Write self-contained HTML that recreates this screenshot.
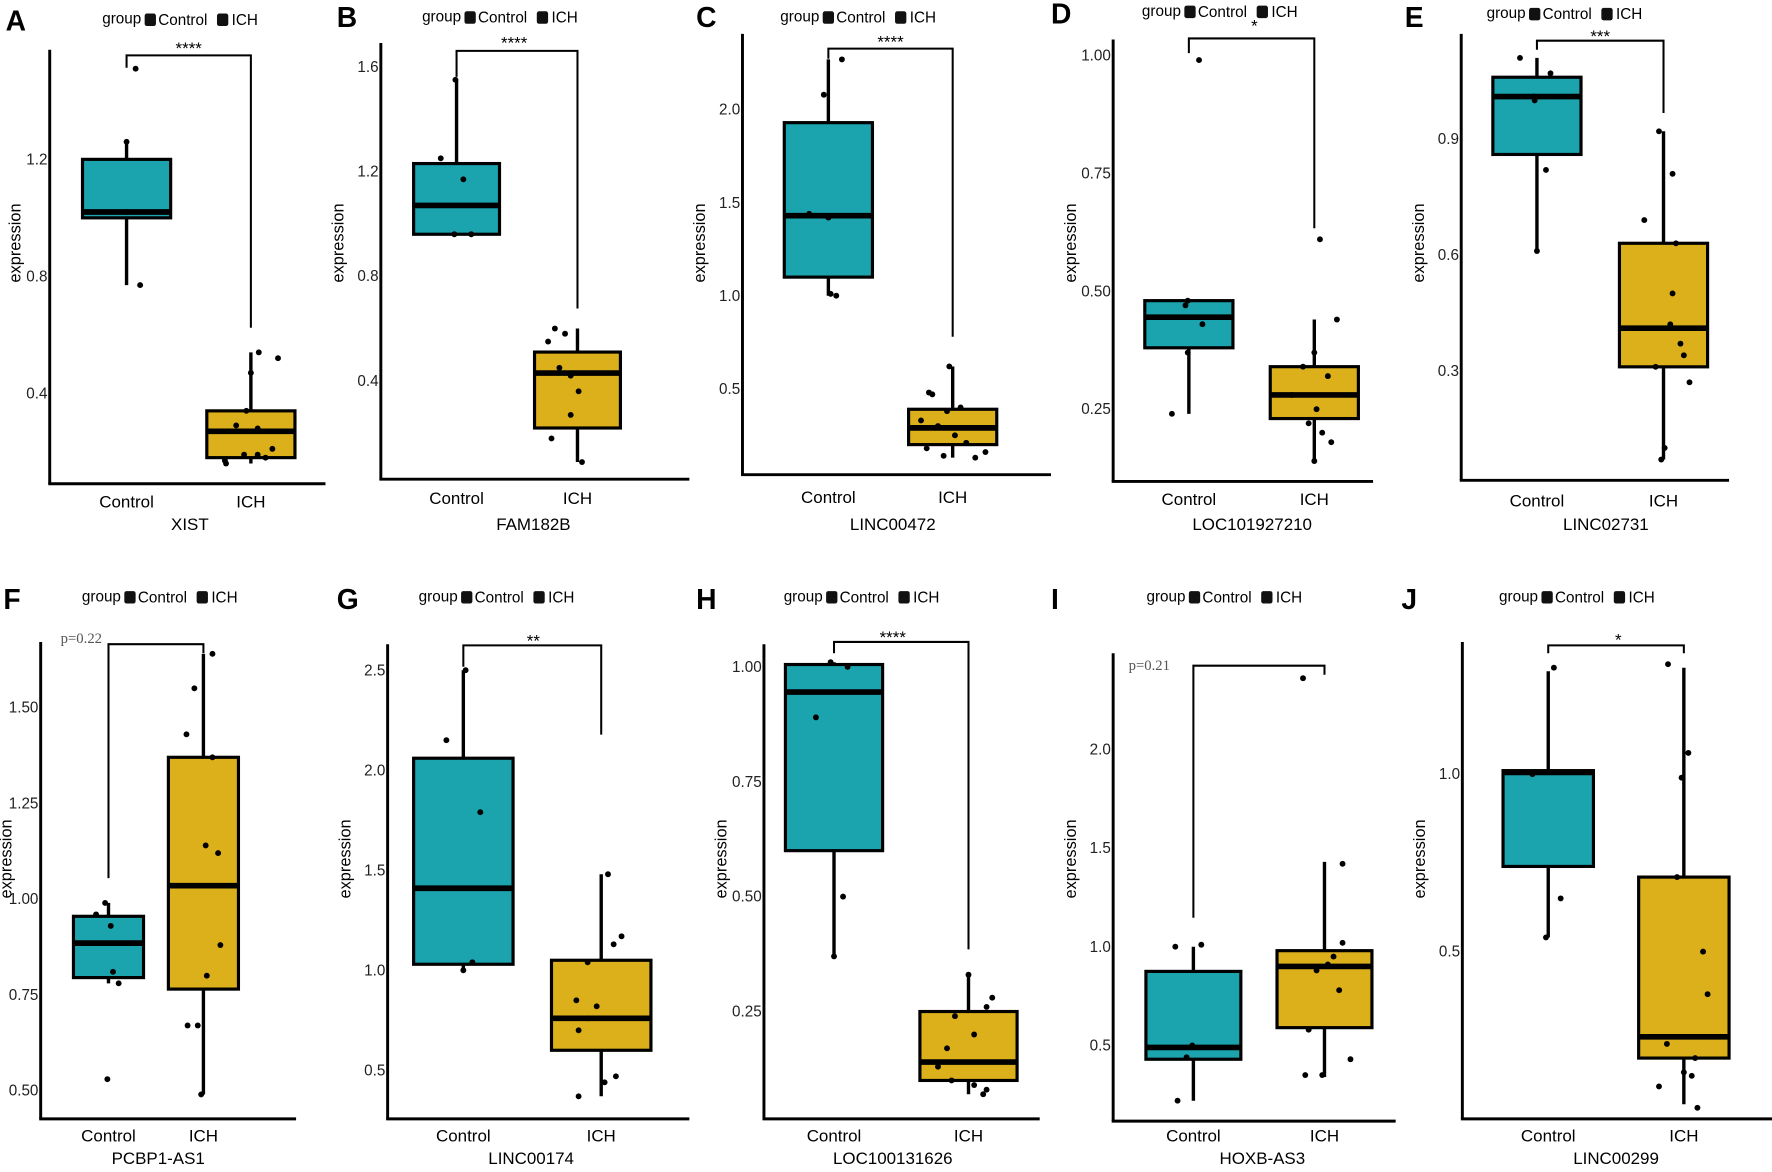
<!DOCTYPE html>
<html><head><meta charset="utf-8"><style>
html,body{margin:0;padding:0;background:#fff;}
svg{display:block;font-family:"Liberation Sans",sans-serif;}
</style></head><body>
<svg id="fig" width="1772" height="1172" viewBox="0 0 1568 1037" preserveAspectRatio="none" xmlns="http://www.w3.org/2000/svg"></svg>
<script>
// ---- data ----
const panelLetters=["A","B","C","D","E","F","G","H","I","J"];
const genes=["XIST","FAM182B","LINC00472","LOC101927210","LINC02731","PCBP1-AS1","LINC00174","LOC100131626","HOXB-AS3","LINC00299"];
const sigLabels=["****","****","****","*","***","p=0.22","**","****","p=0.21","*"];
const yTicks=[[1.2,0.8,0.4],[1.6,1.2,0.8,0.4],[2.0,1.5,1.0,0.5],[1.00,0.75,0.50,0.25],[0.9,0.6,0.3],
 [1.50,1.25,1.00,0.75,0.50],[2.5,2.0,1.5,1.0,0.5],[1.00,0.75,0.50,0.25],[2.0,1.5,1.0,0.5],[1.0,0.5]];
const tickLabels=[["1.2","0.8","0.4"],["1.6","1.2","0.8","0.4"],["2.0","1.5","1.0","0.5"],["1.00","0.75","0.50","0.25"],["0.9","0.6","0.3"],
 ["1.50","1.25","1.00","0.75","0.50"],["2.5","2.0","1.5","1.0","0.5"],["1.00","0.75","0.50","0.25"],["2.0","1.5","1.0","0.5"],["1.0","0.5"]];
// [lower whisker, q1, median, q3, upper whisker]
const ctrlStats=[[0.77,1.0,1.02,1.2,1.26],[0.96,0.96,1.07,1.23,1.55],[1.0,1.1,1.43,1.93,2.27],[0.24,0.38,0.445,0.48,0.48],[0.61,0.86,1.01,1.06,1.11],
 [0.78,0.795,0.885,0.955,0.99],[1.0,1.03,1.41,2.06,2.5],[0.37,0.6,0.945,1.005,1.01],[0.22,0.43,0.49,0.875,1.0],[0.54,0.74,1.005,1.01,1.29]];
const ichStats=[[0.16,0.18,0.27,0.34,0.54],[0.09,0.22,0.43,0.51,0.6],[0.13,0.2,0.29,0.39,0.62],[0.14,0.23,0.28,0.34,0.44],[0.07,0.31,0.41,0.63,0.92],
 [0.49,0.765,1.035,1.37,1.64],[0.37,0.6,0.76,1.05,1.48],[0.07,0.1,0.14,0.25,0.33],[0.34,0.59,0.9,0.98,1.43],[0.07,0.2,0.26,0.71,1.3]];
const ctrlPts=[[1.51,1.26,0.77,1.02],[1.55,1.25,1.17,0.96,0.96],[2.27,2.08,1.44,1.42,1.0,1.01],[0.99,0.48,0.47,0.43,0.37,0.24],[1.11,1.07,1.01,1.0,0.82,0.61],
 [0.99,0.96,0.93,0.81,0.78,0.53],[2.5,2.15,1.79,1.04,1.0],[1.01,1.0,0.89,0.5,0.37],[1.01,1.0,0.5,0.44,0.22],[1.3,1.0,0.65,0.54]];
const ichPts=[[0.54,0.52,0.47,0.34,0.29,0.28,0.21,0.19,0.19,0.18,0.17,0.16],
 [0.6,0.58,0.55,0.45,0.42,0.36,0.27,0.18,0.09],
 [0.62,0.48,0.47,0.4,0.38,0.33,0.3,0.25,0.21,0.18,0.14,0.13,0.16],
 [0.61,0.44,0.37,0.34,0.32,0.28,0.25,0.22,0.2,0.18,0.14],
 [0.92,0.81,0.69,0.63,0.5,0.42,0.37,0.34,0.31,0.27,0.1,0.07],
 [1.64,1.55,1.43,1.37,1.14,1.12,0.88,0.8,0.67,0.67,0.49],
 [1.48,1.17,1.13,1.04,0.85,0.82,0.76,0.7,0.47,0.44,0.37],
 [0.33,0.28,0.26,0.24,0.2,0.17,0.13,0.1,0.09,0.08,0.07],
 [2.36,1.42,1.02,0.95,0.91,0.88,0.78,0.58,0.43,0.35,0.35],
 [1.31,1.06,0.99,0.71,0.5,0.38,0.24,0.2,0.16,0.15,0.12,0.06]];
// ---- layout (pixel, display units) ----
const lay=[
 {L:44,T:44,B:428,R:288,c1:112,c2:222,hw:39,v0:1.2,y0:141,v1:0.4,y1:348,by:49,l1:60,l2:290,sx:167,sy:43,leg:128,legy:17,lx:5,ly:18,ey:215,gx:168,gy:464,cy:444},
 {L:337,T:38,B:424,R:610,c1:404,c2:511,hw:38,v0:1.6,y0:59,v1:0.4,y1:337,by:45,l1:68,l2:273,sx:455,sy:38,leg:411,legy:15,lx:298,ly:15,ey:215,gx:472,gy:464,cy:441},
 {L:657,T:30,B:420,R:930,c1:733,c2:843,hw:39,v0:2.0,y0:97,v1:0.5,y1:344,by:43,l1:52,l2:298,sx:788,sy:37,leg:728,legy:15,lx:616,ly:15,ey:215,gx:790,gy:464,cy:440},
 {L:985,T:35,B:426,R:1215,c1:1052,c2:1163,hw:39,v0:1.0,y0:49,v1:0.25,y1:362,by:34,l1:47,l2:202,sx:1110,sy:23,leg:1048,legy:10,lx:930,ly:12,ey:215,gx:1108,gy:464,cy:442},
 {L:1293,T:30,B:425,R:1530,c1:1360,c2:1472,hw:39,v0:0.9,y0:123,v1:0.3,y1:328,by:36,l1:44,l2:100,sx:1416,sy:32,leg:1353,legy:12,lx:1243,ly:15,ey:215,gx:1421,gy:464,cy:443},
 {L:36,T:568,B:990,R:262,c1:96,c2:180,hw:31,v0:1.5,y0:626,v1:0.5,y1:965,by:570,l1:777,l2:578,sx:72,sy:568,leg:110,legy:528,lx:3,ly:530,ey:760,gx:140,gy:1025,cy:1005},
 {L:343,T:570,B:990,R:610,c1:410,c2:532,hw:44,v0:2.5,y0:593,v1:0.5,y1:947,by:571,l1:590,l2:650,sx:472,sy:567,leg:408,legy:528,lx:298,ly:530,ey:760,gx:470,gy:1025,cy:1005},
 {L:676,T:570,B:990,R:920,c1:738,c2:857,hw:43,v0:1.0,y0:590,v1:0.25,y1:895,by:568,l1:578,l2:840,sx:790,sy:564,leg:731,legy:528,lx:616,ly:530,ey:760,gx:790,gy:1025,cy:1005},
 {L:985,T:578,B:992,R:1235,c1:1056,c2:1172,hw:42,v0:2.0,y0:663,v1:0.5,y1:925,by:589,l1:812,l2:597,sx:1017,sy:592,leg:1052,legy:528,lx:930,ly:530,ey:760,gx:1117,gy:1025,cy:1005},
 {L:1294,T:568,B:990,R:1568,c1:1370,c2:1490,hw:40,v0:1.0,y0:685,v1:0.5,y1:842,by:571,l1:578,l2:578,sx:1432,sy:566,leg:1364,legy:528,lx:1240,ly:530,ey:760,gx:1430,gy:1025,cy:1005}];
const ctrlJit=[[8,0,12,0],[-1,-14,6,-2,13],[12,-4,-17,0,7,2],[9,-1,-3,12,-1,-15],[-15,12,-3,-2,8,0],[-3,-11,2,4,9,-1],[2,-15,15,8,0],[-3,12,-16,8,0],[7,-16,-1,-6,-14],[5,-14,11,-2]];
const ichJit=[[7,24,0,-4,-13,6,19,-6,6,13,-23,-22],[-20,-11,-26,-16,-6,1,-6,-23,4],[-3,-21,-18,7,-5,-28,-13,2,12,-23,-8,20,29],[5,20,0,-10,12,-20,2,-5,7,15,0],[-4,8,-17,11,8,6,15,18,-7,23,1,-2],[8,-8,-15,8,2,13,15,3,-14,-5,-2],[6,18,11,-12,-22,-4,-12,-20,13,3,-20],[0,21,16,-12,5,-19,-27,-15,5,16,13],[-19,16,16,8,3,-7,13,-14,23,-2,-17],[-14,4,-2,-6,17,21,-15,10,0,7,-22,12]];
const TEAL="#1ba3ae", GOLD="#dcb01b";
const NS="http://www.w3.org/2000/svg";
const svg=document.getElementById('fig');
function mk(tag,attrs,parent){const e=document.createElementNS(NS,tag);for(const k in attrs)e.setAttribute(k,attrs[k]);(parent||svg).appendChild(e);return e;}
function txt(s,attrs,parent){const e=mk('text',attrs,parent);e.textContent=s;return e;}

genes.forEach((g,i)=>{
  const P=lay[i];
  const y=v=>P.y0+(v-P.v0)*(P.y1-P.y0)/(P.v1-P.v0);
  const grp=mk('g',{});
  
  
  const lt=txt(panelLetters[i],{x:P.lx,y:P.ly+9,'font-size':25,'font-weight':'bold',fill:'#000'},grp);
  
  
  // legend
  const lg=mk('g',{},grp);
  
  
  txt('group',{x:P.leg-3,y:P.legy+4,'font-size':13.5,'text-anchor':'end'},lg);
  const k1=mk('rect',{x:P.leg,y:P.legy-5,width:10,height:11,rx:2,fill:'#111'},lg);
  
  
  txt('Control',{x:P.leg+12,y:P.legy+5,'font-size':13.5},lg);
  const k2=mk('rect',{x:P.leg+64,y:P.legy-5,width:10,height:11,rx:2,fill:'#111'},lg);
  
  
  txt('ICH',{x:P.leg+77,y:P.legy+5,'font-size':13.5},lg);
  // axes
  const ya=mk('line',{x1:P.L,y1:P.T,x2:P.L,y2:P.B,stroke:'#000','stroke-width':2.6},grp);
  
  
  const xa=mk('line',{x1:P.L-1.3,y1:P.B,x2:P.R,y2:P.B,stroke:'#000','stroke-width':2.6},grp);
  
  
  yTicks[i].forEach((v,j)=>{
    const t=txt(tickLabels[i][j],{x:P.L-2,y:y(v)+4.5,'font-size':13.5,'text-anchor':'end',fill:'#222'},grp);
    
    
  });
  const et=txt('expression',{x:0,y:0,'font-size':14.5,'text-anchor':'middle',transform:`translate(${lay[i].L-(i%5==0?26:33)},${P.ey}) rotate(-90)`},grp);
  
  
  // boxes
  [[ctrlStats[i],ctrlPts[i],ctrlJit[i],P.c1,TEAL,'control'],[ichStats[i],ichPts[i],ichJit[i],P.c2,GOLD,'ich']].forEach(([s,pts,jit,cx,col,nm])=>{
    const w=mk('line',{x1:cx,x2:cx,y1:y(s[0]),y2:y(s[4]),stroke:'#000','stroke-width':3},grp);
    
    
    const b=mk('rect',{x:cx-P.hw,width:2*P.hw,y:y(s[3]),height:Math.max(1,y(s[1])-y(s[3])),fill:col,stroke:'#000','stroke-width':2.8},grp);
    
    
    const m=mk('line',{x1:cx-P.hw,x2:cx+P.hw,y1:y(s[2]),y2:y(s[2]),stroke:'#000','stroke-width':5},grp);
    
    
    pts.forEach((v,j)=>{
      const c=mk('circle',{cx:cx+jit[j],cy:y(v),r:2.6,fill:'#000'},grp);
      
      
    });
    const xl=txt(nm==='control'?'Control':'ICH',{x:cx,y:P.cy+5,'font-size':15,'text-anchor':'middle'},grp);
    
    
  });
  const gt=txt(g,{x:P.gx,y:P.gy+5,'font-size':15,'text-anchor':'middle'},grp);
  
  
  // bracket
  const br=mk('path',{d:`M${P.c1},${P.l1} V${P.by} H${P.c2} V${P.l2}`,fill:'none',stroke:'#000','stroke-width':1.8},grp);
  
  
  const isP=sigLabels[i].startsWith('p');
  const sl=txt(sigLabels[i],isP?{x:P.sx,y:P.sy+1,'font-size':13,'text-anchor':'middle','font-family':'Liberation Serif, serif',fill:'#555'}:{x:P.sx,y:P.sy+5,'font-size':15,'text-anchor':'middle'},grp);
  
  
});
</script>
</body></html>
